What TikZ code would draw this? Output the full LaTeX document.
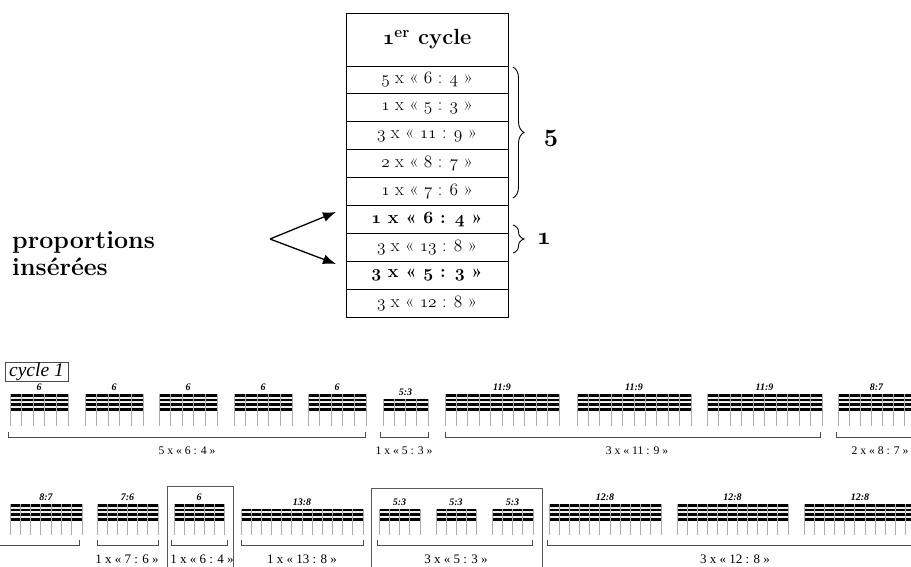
\documentclass[tikz,border=0pt]{standalone}
\usepackage{fontspec}
\newfontfamily\tms{Liberation Serif}
\usetikzlibrary{arrows.meta,decorations.pathreplacing}
\newcommand\osm[1]{{\usefont{OML}{cmm}{m}{it}#1}}
\newcommand\osb[1]{{\usefont{OML}{cmm}{b}{it}#1}}
\newcommand\rtxt[3]{\osm{#1} x « \osm{#2} : \osm{#3} »}
\newcommand\rtxb[3]{{\bfseries\osb{#1} x « \osb{#2} : \osb{#3} »}}
% rhythm block: #1 x0, #2 x1, #3 stems, #4 beams, #5 beam bottom, #6 stem bottom, #7 label, #8 name
\newcommand\rblk[8]{%
  \pgfmathsetmacro\rh{#4*2.6+(#4-1)*2.2}%
  \pgfmathtruncatemacro\ng{#4-1}%
  \pgfmathsetmacro\dx{(#2-#1)/(#3-1)}%
  \pgfmathtruncatemacro\nm{#3-1}%
  \fill[black] (#1,#5-\rh) rectangle (#2,#5);
  \foreach \i in {1,...,\ng}{%
    \pgfmathsetmacro\gy{#5-\rh+\i*2.6+(\i-1)*2.2}%
    \fill[gray!12] (#1,\gy) rectangle (#2,\gy+1.9);
  }
  \foreach \k in {0,...,\nm}{%
    \draw[stem] ({#1+\k*\dx},#5-\rh) -- ({#1+\k*\dx},#6);
  }
  \node[blab] (#8) at ({(#1+#2)/2},#5-\rh-7) {#7};
}
\newcommand\brk[4]{% #1 x0 #2 x1 #3 y #4 name
  \draw[bracket] (#1,#3-5) -- (#1,#3) -- (#2,#3) -- (#2,#3-5);
  \coordinate (#4) at ({(#1+#2)/2},#3);
}
\begin{document}
\begin{tikzpicture}[x=1pt,y=-1pt,
  cell/.style={draw=black,line width=0.8pt,minimum width=162pt,minimum height=27.9pt,inner sep=0pt,
    font=\fontsize{18}{21}\selectfont},
  head/.style={draw=black,line width=0.8pt,minimum width=162pt,minimum height=53pt,inner sep=0pt,
    font=\fontsize{22}{25}\selectfont\bfseries},
  arr/.style={line width=1.3pt,-{Latex[length=13pt,width=10pt]}},
  brace/.style={decorate,decoration={brace,amplitude=11pt},line width=0.9pt},
  stem/.style={draw=gray!65,line width=0.9pt},
  blab/.style={font=\tms\fontsize{10}{11}\selectfont\bfseries\itshape,inner sep=0pt},
  bracket/.style={draw=black!70,line width=0.9pt},
  lab1/.style={font=\tms\fontsize{11.7}{13}\selectfont,inner sep=0pt},
  lab2/.style={font=\tms\fontsize{13}{15}\selectfont,inner sep=0pt},
  sel/.style={draw=black!65,line width=0.9pt}]
\useasboundingbox (0,0) rectangle (911,567);
\clip (0,0) rectangle (911,567);
\fill[white] (0,0) rectangle (911,567);

% ---------- table ----------
\node[head] (hd) at (427,39.5) {\osb{1}\textsuperscript{er} cycle};
\node[cell] (r1) at (427,79.95) {\rtxt{5}{6}{4}};
\node[cell] (r2) at (427,107.85) {\rtxt{1}{5}{3}};
\node[cell] (r3) at (427,135.75) {\rtxt{3}{11}{9}};
\node[cell] (r4) at (427,163.65) {\rtxt{2}{8}{7}};
\node[cell] (r5) at (427,191.55) {\rtxt{1}{7}{6}};
\node[cell] (r6) at (427,219.45) {\rtxb{1}{6}{4}};
\node[cell] (r7) at (427,247.35) {\rtxt{3}{13}{8}};
\node[cell] (r8) at (427,275.25) {\rtxb{3}{5}{3}};
\node[cell] (r9) at (427,303.15) {\rtxt{3}{12}{8}};

\coordinate (b1t) at (513,67);
\coordinate (b1b) at (513,198);
\coordinate (b2t) at (513,225);
\coordinate (b2b) at (513,253);
\draw[brace] (b1t) -- (b1b);
\draw[brace] (b2t) -- (b2b);
\node[font=\fontsize{25}{28}\selectfont\bfseries,inner sep=0pt] (n5) at (551,138) {\osb{5}};
\node[font=\fontsize{25}{28}\selectfont\bfseries,inner sep=0pt] (n1) at (544,239) {\osb{1}};

\node[font=\fontsize{25}{28}\selectfont\bfseries,align=left,anchor=west,inner sep=0pt] (prop) at (12,254)
  {proportions\\[-1pt]insérées};
\coordinate (apx) at (270,239);
\coordinate (t1) at (336,212);
\coordinate (t2) at (336,264);
\draw[arr] (apx) -- (t1);
\draw[arr] (apx) -- (t2);

% ---------- cycle 1 ----------
\node[draw=black!70,line width=0.8pt,minimum width=63pt,minimum height=19pt,inner sep=0pt,
  font=\tms\fontsize{19.5}{21}\selectfont\itshape] (cyc) at (36.5,371.5) {cycle 1};

% row 1
\rblk{10}{68}{6}{4}{411}{426}{6}{a1}
\rblk{85}{143}{6}{4}{411}{426}{6}{a2}
\rblk{159}{217}{6}{4}{411}{426}{6}{a3}
\rblk{234}{292}{6}{4}{411}{426}{6}{a4}
\rblk{308}{366}{6}{4}{411}{426}{6}{a5}
\rblk{383}{428}{5}{3}{411}{426}{5:3}{a6}
\rblk{445}{559}{11}{4}{411}{426}{11:9}{a7}
\rblk{577}{691}{11}{4}{411}{426}{11:9}{a8}
\rblk{707}{822}{11}{4}{411}{426}{11:9}{a9}
\rblk{838}{915}{8}{4}{411}{426}{8:7}{a10}

\brk{8}{365}{437}{k1}
\brk{380}{428}{437}{k2}
\brk{445}{820}{437}{k3}
\brk{836}{925}{437}{k4}
\node[lab1] (l1) at (187,451) {5 x « 6 : 4 »};
\node[lab1] (l2) at (404,451) {1 x « 5 : 3 »};
\node[lab1] (l3) at (637,451) {3 x « 11 : 9 »};
\node[lab1] (l4) at (880,451) {2 x « 8 : 7 »};

% row 2
\draw[sel] (167,575) -- (167,486) -- (233,486) -- (233,575);
\draw[sel] (371,575) -- (371,488) -- (542,488) -- (542,575);
\rblk{10}{82}{8}{4}{521}{535}{8:7}{c1}
\rblk{97}{158}{7}{4}{521}{535}{7:6}{c2}
\rblk{174}{224}{6}{4}{521}{535}{6}{c3}
\rblk{241}{363}{13}{3}{521}{535}{13:8}{c4}
\rblk{379}{420}{5}{3}{521}{535}{5:3}{c5}
\rblk{436}{476}{5}{3}{521}{535}{5:3}{c6}
\rblk{492}{533}{5}{3}{521}{535}{5:3}{c7}
\rblk{549}{661}{12}{4}{521}{535}{12:8}{c8}
\rblk{677}{788}{12}{4}{521}{535}{12:8}{c9}
\rblk{804}{916}{12}{4}{521}{535}{12:8}{c10}

\draw[bracket] (-5,545) -- (79,545) -- (79,540);
\brk{97}{158}{545}{m2}
\brk{171}{227}{545}{m3}
\brk{241}{363}{545}{m4}
\brk{377}{532}{545}{m5}
\brk{547}{925}{545}{m6}
\node[lab2] (q1) at (127,559) {1 x « 7 : 6 »};
\node[lab2] (q2) at (202,559) {1 x « 6 : 4 »};
\node[lab2] (q3) at (302,559) {1 x « 13 : 8 »};
\node[lab2] (q4) at (456,559) {3 x « 5 : 3 »};
\node[lab2] (q5) at (735,559) {3 x « 12 : 8 »};
\end{tikzpicture}
\end{document}
